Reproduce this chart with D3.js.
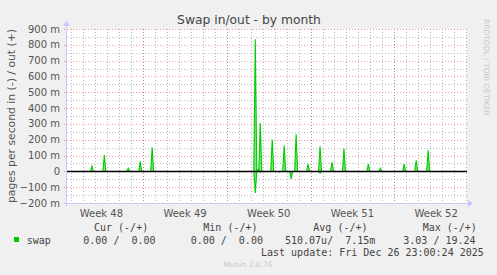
<!DOCTYPE html>
<html>
<head>
<meta charset="utf-8">
<script src="https://cdn.jsdelivr.net/npm/d3@7"></script>
<style>
  body { margin: 0; background: #f0f0f0; }
  svg { display: block; }
  text { font-family: "DejaVu Sans", sans-serif; }
  .mono { font-family: "DejaVu Sans Mono", monospace; white-space: pre; }
</style>
</head>
<body>
<script>
// swap out (+) spikes: time and pages/s
var outTimes = ["2025-11-26T17:00Z", "2025-11-27T18:00Z", "2025-11-29T18:00Z", "2025-11-30T18:00Z",
  "2025-12-01T18:00Z", "2025-12-10T09:00Z", "2025-12-10T15:00Z", "2025-12-10T19:00Z",
  "2025-12-11T19:00Z", "2025-12-12T19:00Z", "2025-12-13T19:00Z", "2025-12-14T19:00Z",
  "2025-12-15T19:00Z", "2025-12-16T19:00Z", "2025-12-17T19:00Z", "2025-12-19T20:00Z",
  "2025-12-20T20:00Z", "2025-12-22T20:00Z", "2025-12-23T20:00Z", "2025-12-24T20:00Z"];
var outValues = [0.032, 0.101, 0.019, 0.063, 0.150, 0.835, 0.013, 0.305, 0.202, 0.164, 0.234, 0.046,
  0.158, 0.057, 0.146, 0.046, 0.019, 0.046, 0.070, 0.133];
// swap in (-) spikes
var inTimes = ["2025-12-10T09:00Z", "2025-12-10T19:00Z", "2025-12-12T09:00Z", "2025-12-13T09:00Z", "2025-12-15T19:00Z"];
var inValues = [0.137, 0.006, 0.005, 0.048, 0.011];

var weekLabels = ["Week 48", "Week 49", "Week 50", "Week 51", "Week 52"];
var weekStarts = ["2025-11-24", "2025-12-01", "2025-12-08", "2025-12-15", "2025-12-22"];
var yTicks = [-0.2, -0.1, 0, 0.1, 0.2, 0.3, 0.4, 0.5, 0.6, 0.7, 0.8, 0.9];

var W = 497, H = 275;
var pL = 67, pR = 467, pT = 29, pB = 203;

var svg = d3.select("body").append("svg")
  .attr("width", W).attr("height", H);

var x = d3.scaleUtc()
  .domain([new Date("2025-11-24T15:00Z"), new Date("2025-12-28T02:00Z")])
  .range([pL, pR]);
var y = d3.scaleLinear().domain([-0.2, 0.9]).range([pB, pT]);

// plot canvas
svg.append("rect").attr("x", pL).attr("y", pT)
  .attr("width", pR - pL).attr("height", pB - pT).attr("fill", "#fff");

// minor grid: every 50m and every day
var minorY = d3.range(-0.15, 0.9, 0.1);
svg.append("g").selectAll("line").data(minorY).enter().append("line")
  .attr("x1", pL).attr("x2", pR)
  .attr("y1", function(d) { return Math.round(y(d)) + 0.5; })
  .attr("y2", function(d) { return Math.round(y(d)) + 0.5; })
  .attr("stroke", "rgba(140,140,140,0.6)").attr("stroke-dasharray", "1,2");

var days = d3.utcDay.range(x.domain()[0], x.domain()[1]);
svg.append("g").selectAll("line").data(days).enter().append("line")
  .attr("x1", function(d) { return Math.round(x(d)) + 0.5; })
  .attr("x2", function(d) { return Math.round(x(d)) + 0.5; })
  .attr("y1", pT).attr("y2", pB)
  .attr("stroke", "rgba(140,140,140,0.6)").attr("stroke-dasharray", "1,2");

// major grid
svg.append("g").selectAll("line").data(yTicks).enter().append("line")
  .attr("x1", pL - 3).attr("x2", pR)
  .attr("y1", function(d) { return Math.round(y(d)) + 0.5; })
  .attr("y2", function(d) { return Math.round(y(d)) + 0.5; })
  .attr("stroke", "rgba(225,90,90,0.6)").attr("stroke-dasharray", "1,2");

var weeks = d3.utcMonday.range(x.domain()[0], x.domain()[1]);
svg.append("g").selectAll("line").data(weeks).enter().append("line")
  .attr("x1", function(d) { return Math.round(x(d)) + 0.5; })
  .attr("x2", function(d) { return Math.round(x(d)) + 0.5; })
  .attr("y1", pT).attr("y2", pB + 3)
  .attr("stroke", "rgba(225,90,90,0.6)").attr("stroke-dasharray", "1,2");

// y labels
svg.append("g").selectAll("text").data(yTicks).enter().append("text")
  .attr("x", 60).attr("y", function(d) { return y(d); })
  .attr("dy", "0.35em").attr("text-anchor", "end")
  .attr("font-size", 10).attr("fill", "#555")
  .text(function(d) { return d === 0 ? "0" : d3.format(".0f")(d * 1000) + " m"; });

// week labels
svg.append("g").selectAll("text").data(weekLabels).enter().append("text")
  .attr("x", function(d, i) { return x(d3.utcHour.offset(new Date(weekStarts[i] + "T00:00Z"), 84)); })
  .attr("y", 216.5).attr("text-anchor", "middle")
  .attr("font-size", 10).attr("fill", "#555")
  .text(function(d) { return d; });

// spikes
var spike = d3.line()
  .x(function(d) { return x(d[0]); })
  .y(function(d) { return y(d[1]); });

function spikePts(t, v) {
  var d = new Date(t);
  return [[d3.utcHour.offset(d, -3), 0], [d, v], [d3.utcHour.offset(d, 3), 0]];
}

var g = svg.append("g");
outTimes.forEach(function(t, i) {
  g.append("path").attr("d", spike(spikePts(t, outValues[i])))
    .attr("fill", "rgba(0,204,0,0.5)").attr("stroke", "#00cc00").attr("stroke-width", 1.1);
});
inTimes.forEach(function(t, i) {
  g.append("path").attr("d", spike(spikePts(t, -inValues[i])))
    .attr("fill", "rgba(0,204,0,0.5)").attr("stroke", "#00cc00").attr("stroke-width", 1.1);
});

// zero line
svg.append("line").attr("x1", pL).attr("x2", pR)
  .attr("y1", Math.round(y(0)) + 0.5).attr("y2", Math.round(y(0)) + 0.5)
  .attr("stroke", "#000").attr("stroke-width", 1.5);

// axes with arrows
var axisCol = "#c8c8ff";
svg.append("line").attr("x1", pL - 0.5).attr("x2", pL - 0.5).attr("y1", pB + 3).attr("y2", pT - 4)
  .attr("stroke", axisCol);
svg.append("path").attr("d", "M" + (pL - 4) + "," + (pT - 3) + "L" + (pL - 0.5) + "," + (pT - 8) + "L" + (pL + 3) + "," + (pT - 3) + "Z")
  .attr("fill", axisCol);
svg.append("line").attr("x1", pL - 3).attr("x2", pR + 4).attr("y1", pB + 0.5).attr("y2", pB + 0.5)
  .attr("stroke", axisCol);
svg.append("path").attr("d", "M" + (pR + 1) + "," + (pB - 3) + "L" + (pR + 6) + "," + (pB + 0.5) + "L" + (pR + 1) + "," + (pB + 4) + "Z")
  .attr("fill", axisCol);

// title
svg.append("text").attr("x", 249).attr("y", 24).attr("text-anchor", "middle")
  .attr("font-size", 12.3).attr("fill", "#444").text("Swap in/out - by month");

// y title
svg.append("text").attr("transform", "translate(14.5," + ((pT + pB) / 2) + ") rotate(-90)")
  .attr("text-anchor", "middle").attr("font-size", 10.8).attr("fill", "#555")
  .text("pages per second in (-) / out (+)");

// side text
svg.append("text").attr("transform", "translate(484,19) rotate(90)")
  .attr("font-size", 7.5).attr("fill", "#c8c8c8").text("RRDTOOL / TOBI OETIKER");

// legend
var legCols = ["Cur (-/+)", "Min (-/+)", "Avg (-/+)", "Max (-/+)"];
var legVals = ["0.00 /  0.00", "0.00 /  0.00", "510.07u/  7.15m", "3.03 / 19.24"];
var legHeadX = [94, 203.3, 313.3, 422.7];
var legValX = [83.3, 190.7, 285, 403.3];

svg.append("g").selectAll("text").data(legCols).enter().append("text")
  .attr("class", "mono").attr("x", function(d, i) { return legHeadX[i]; }).attr("y", 231)
  .attr("font-size", 10).attr("fill", "#444").text(function(d) { return d; });
svg.append("rect").attr("x", 14).attr("y", 237).attr("width", 5).attr("height", 5).attr("fill", "#00cc00");
svg.append("text").attr("class", "mono").attr("x", 26.7).attr("y", 244)
  .attr("font-size", 10).attr("fill", "#444").text("swap");
svg.append("g").selectAll("text").data(legVals).enter().append("text")
  .attr("class", "mono").attr("x", function(d, i) { return legValX[i]; }).attr("y", 244)
  .attr("font-size", 10).attr("fill", "#444").text(function(d) { return d; });
svg.append("text").attr("class", "mono").attr("x", 261).attr("y", 255.5)
  .attr("font-size", 10).attr("fill", "#444").text("Last update: Fri Dec 26 23:00:24 2025");

svg.append("text").attr("x", 248).attr("y", 266.5).attr("text-anchor", "middle")
  .attr("font-size", 7.5).attr("fill", "#c8c8c8").text("Munin 2.0.76");
</script>
</body>
</html>
